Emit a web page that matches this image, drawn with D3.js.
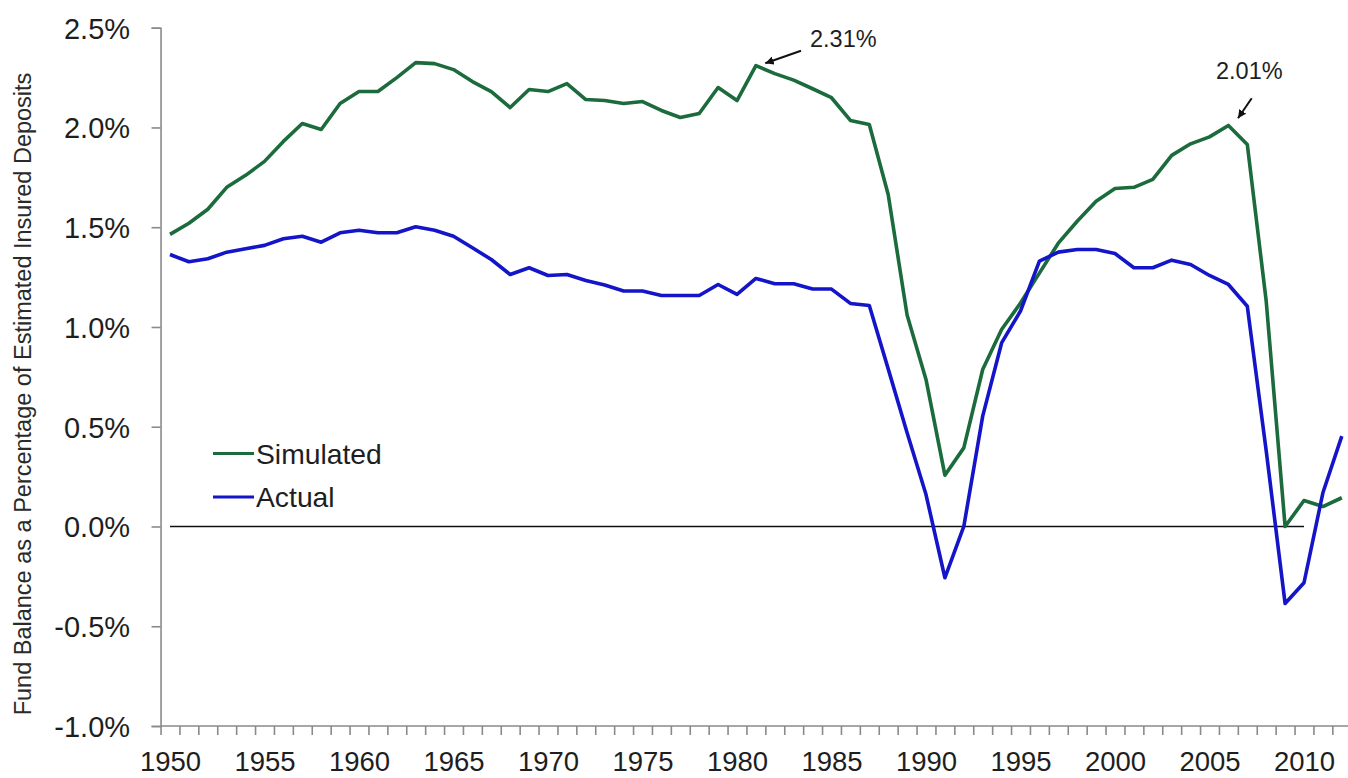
<!DOCTYPE html>
<html><head><meta charset="utf-8">
<script src="https://cdn.jsdelivr.net/npm/d3@7"></script>
<style>
html,body{margin:0;padding:0;background:#fff;}
svg text{font-family:"Liberation Sans",Arial,sans-serif;}
</style></head>
<body>
<svg id="chart" width="1348" height="778"></svg>
<script>
const years = d3.range(1950, 2013);
const simulated = [1.464,1.52,1.59,1.70,1.76,1.83,1.93,2.02,1.99,2.12,2.18,2.18,2.25,2.325,2.32,2.29,2.23,2.18,2.10,2.19,2.18,2.22,2.14,2.135,2.12,2.13,2.085,2.05,2.07,2.20,2.135,2.31,2.27,2.237,2.194,2.149,2.035,2.015,1.664,1.06,0.737,0.257,0.394,0.787,0.987,1.12,1.27,1.42,1.53,1.63,1.694,1.70,1.74,1.86,1.918,1.953,2.01,1.915,1.13,0.0,0.13,0.10,0.144];
const actual = [1.363,1.327,1.342,1.375,1.392,1.409,1.442,1.455,1.425,1.472,1.485,1.472,1.472,1.502,1.485,1.455,1.397,1.338,1.263,1.297,1.258,1.263,1.233,1.21,1.18,1.18,1.158,1.158,1.158,1.213,1.163,1.243,1.217,1.217,1.19,1.19,1.118,1.108,0.79,0.47,0.16,-0.257,0.0,0.553,0.92,1.08,1.33,1.375,1.388,1.388,1.368,1.297,1.297,1.335,1.313,1.258,1.213,1.104,0.38,-0.386,-0.282,0.169,0.453];
const yTicks = [-1.0,-0.5,0.0,0.5,1.0,1.5,2.0,2.5];
const xLabelYears = d3.range(1950, 2011, 5);
const seriesNames = ["Simulated","Actual"];
const seriesColors = ["#1b6b3c","#1414c8"];
const annotations = [{year:1981, value:2.31, label:"2.31%"},{year:2006, value:2.01, label:"2.01%"}];

const svg = d3.select("#chart");
const x = d3.scaleLinear().domain([1950, 2012]).range([170, 170 + 62*18.9]);
const y = d3.scaleLinear().domain([-1, 2.5]).range([726, 27.7]);
const axisColor = "#8a8a8a";
const textColor = "#1e1e1e";

// Y axis
const yAxis = svg.append("g").attr("transform", `translate(${x(1949.5)},0)`)
  .call(d3.axisLeft(y).tickValues(yTicks).tickSize(9).tickPadding(21.5)
    .tickFormat(d => d3.format(".1f")(d).replace("\u2212", "-") + "%"));
yAxis.select(".domain").attr("stroke", axisColor).attr("stroke-width", 1.6);
yAxis.selectAll(".tick line").attr("stroke", axisColor).attr("stroke-width", 1.6);
yAxis.selectAll(".tick text").attr("font-size", 29).attr("fill", textColor).attr("dy", "0.36em");

// X axis ticks (category boundaries)
const xAxisTicks = svg.append("g").attr("transform", `translate(0,${y(-1)})`)
  .call(d3.axisBottom(x).tickValues(d3.range(1949.5, 2012, 1)).tickSize(9).tickFormat(""));
xAxisTicks.select(".domain").attr("d", `M${x(1949.5)},0H1348`).attr("stroke", axisColor).attr("stroke-width", 1.6);
xAxisTicks.selectAll(".tick line").attr("stroke", axisColor).attr("stroke-width", 1.6);

// X axis labels
const xAxisLabels = svg.append("g").attr("transform", `translate(0,${y(-1)})`)
  .call(d3.axisBottom(x).tickValues(xLabelYears).tickSize(0).tickPadding(0).tickFormat(d3.format("d")));
xAxisLabels.select(".domain").remove();
xAxisLabels.selectAll(".tick text").attr("font-size", 27.5).attr("fill", textColor)
  .attr("dy", null).attr("y", 44.5);

// Y axis title
svg.append("text")
  .attr("transform", `translate(31,394) rotate(-90)`)
  .attr("text-anchor", "middle")
  .attr("font-size", 23.5)
  .attr("fill", "#2a2a2a")
  .text("Fund Balance as a Percentage of Estimated Insured Deposits");

// zero line
svg.append("line")
  .attr("x1", x(1950)).attr("x2", x(2010))
  .attr("y1", y(0)).attr("y2", y(0))
  .attr("stroke", "#111").attr("stroke-width", 1.6);

// lines
const line = d3.line().x((d, i) => x(years[i])).y(d => y(d));
[simulated, actual].forEach((s, k) => {
  svg.append("path").datum(s)
    .attr("d", line)
    .attr("fill", "none")
    .attr("stroke", seriesColors[k])
    .attr("stroke-width", 3.6)
    .attr("stroke-linejoin", "round");
});

// legend
const legend = svg.append("g");
seriesNames.forEach((n, k) => {
  const ly = 453.5 + k * 43.5;
  legend.append("line").attr("x1", 213).attr("x2", 254).attr("y1", ly).attr("y2", ly)
    .attr("stroke", seriesColors[k]).attr("stroke-width", 3.2);
  legend.append("text").attr("x", 256).attr("y", ly + 10.3)
    .attr("font-size", 28.3).attr("fill", textColor).text(n);
});

// annotations
const defs = svg.append("defs");
defs.append("marker").attr("id", "arrow").attr("viewBox", "0 0 10 10")
  .attr("refX", 10).attr("refY", 5).attr("markerWidth", 4.2).attr("markerHeight", 4.2)
  .attr("markerUnits", "strokeWidth").attr("orient", "auto")
  .append("path").attr("d", "M0,0L10,5L0,10z").attr("fill", "#111");

const annoPos = [
  {tx: 810, ty: 46.7, ax1: 801, ay1: 50.7, dx: 765.3 - x(1981), dy: 63.3 - y(2.31)},
  {tx: 1216, ty: 79.3, ax1: 1251.7, ay1: 98.3, dx: 1238 - x(2006), dy: 118.3 - y(2.01)}
];
annotations.forEach((a, i) => {
  const p = annoPos[i];
  svg.append("text").attr("x", p.tx).attr("y", p.ty).attr("font-size", 23.5)
    .attr("fill", textColor).text(a.label);
  svg.append("line").attr("x1", p.ax1).attr("y1", p.ay1)
    .attr("x2", x(a.year) + p.dx).attr("y2", y(a.value) + p.dy)
    .attr("stroke", "#111").attr("stroke-width", 2).attr("marker-end", "url(#arrow)");
});
</script>
</body></html>
